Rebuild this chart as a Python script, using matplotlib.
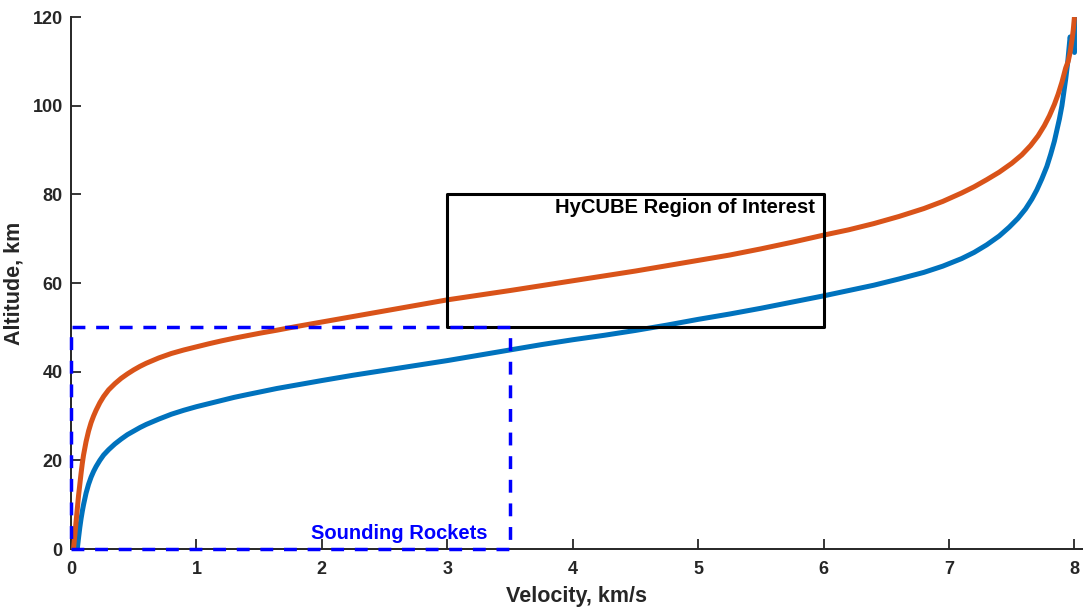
import matplotlib
matplotlib.use("Agg")
import matplotlib.pyplot as plt
from matplotlib.patches import Rectangle

plt.rcParams['font.family'] = ['Liberation Sans', 'DejaVu Sans']
plt.rcParams['font.weight'] = 'bold'

# Trajectory velocity (km/s) vs altitude (km), lower corridor
v_low = [0.05, 0.06, 0.07, 0.08, 0.09, 0.10, 0.12, 0.14, 0.16, 0.18, 0.20,
         0.23, 0.26, 0.30, 0.35, 0.40, 0.45, 0.50, 0.55, 0.60, 0.70, 0.80,
         0.90, 1.00, 1.10, 1.20, 1.30, 1.40, 1.52, 1.64, 1.80, 2.00, 2.25,
         2.50, 2.75, 3.00, 3.25, 3.50, 3.75, 4.00, 4.25, 4.50, 4.75, 5.00,
         5.25, 5.50, 5.75, 6.00, 6.20, 6.40, 6.60, 6.80, 6.95, 7.10, 7.20,
         7.30, 7.40, 7.48, 7.55, 7.61, 7.66, 7.70, 7.74, 7.78, 7.81, 7.84,
         7.86, 7.88, 7.90, 7.915, 7.93, 7.945, 7.955, 7.965, 8.00, 8.00]
alt_low = [0.0, 2.5, 4.8, 6.8, 8.5, 10.0, 12.6, 14.6, 16.2, 17.5, 18.6,
           20.0, 21.2, 22.4, 23.7, 24.8, 25.8, 26.6, 27.4, 28.1, 29.3, 30.4,
           31.3, 32.1, 32.8, 33.5, 34.2, 34.8, 35.5, 36.2, 37.0, 38.0, 39.2,
           40.3, 41.4, 42.5, 43.7, 44.9, 46.1, 47.2, 48.2, 49.3, 50.5, 51.8,
           53.0, 54.3, 55.7, 57.1, 58.3, 59.5, 60.9, 62.4, 63.8, 65.5, 66.9,
           68.6, 70.6, 72.6, 74.6, 76.7, 78.9, 81.0, 83.5, 86.3, 89.0, 92.0,
           94.5, 97.0, 100.0, 103.0, 106.0, 109.5, 112.5, 115.5, 112.0, 120.0]

# Upper corridor
v_high = [0.02, 0.03, 0.04, 0.05, 0.06, 0.07, 0.08, 0.09, 0.10, 0.12, 0.14,
          0.16, 0.18, 0.20, 0.23, 0.26, 0.30, 0.35, 0.40, 0.45, 0.50, 0.55,
          0.60, 0.70, 0.80, 0.90, 1.00, 1.10, 1.20, 1.30, 1.40, 1.52, 1.64,
          1.80, 2.00, 2.25, 2.50, 2.75, 3.00, 3.25, 3.50, 3.75, 4.00, 4.25,
          4.50, 4.75, 5.00, 5.25, 5.50, 5.75, 6.00, 6.20, 6.40, 6.60, 6.80,
          6.95, 7.10, 7.20, 7.30, 7.40, 7.50, 7.58, 7.65, 7.71, 7.76, 7.80,
          7.84, 7.87, 7.90, 7.93, 7.95, 7.965, 7.98, 7.99, 8.00]
alt_high = [0.0, 3.0, 6.0, 9.0, 12.0, 14.5, 17.0, 19.3, 21.2, 24.2, 26.6,
            28.5, 30.0, 31.3, 33.0, 34.4, 35.9, 37.3, 38.5, 39.5, 40.4, 41.2,
            41.9, 43.1, 44.1, 44.9, 45.6, 46.3, 46.95, 47.55, 48.1, 48.75, 49.35,
            50.2, 51.2, 52.45, 53.7, 54.95, 56.2, 57.25, 58.3, 59.4, 60.5, 61.6,
            62.7, 63.9, 65.1, 66.3, 67.7, 69.2, 70.8, 72.0, 73.4, 75.0, 76.8,
            78.4, 80.3, 81.7, 83.3, 85.0, 87.0, 88.9, 91.0, 93.2, 95.5, 97.7,
            100.3, 102.6, 105.3, 108.5, 110.0, 112.0, 114.8, 117.0, 120.0]

# Regions: (v_min, v_max, alt_min, alt_max)
hycube_region = (3.0, 6.0, 50.0, 80.0)
sounding_region = (0.0, 3.5, 0.0, 50.0)

x_ticks = [0, 1, 2, 3, 4, 5, 6, 7, 8]
y_ticks = [0, 20, 40, 60, 80, 100, 120]

fig = plt.figure(figsize=(10.83, 6.07), dpi=100)
ax = fig.add_axes([71 / 1083, 58 / 607, 1012 / 1083, 532 / 607])

ax.plot(v_low, alt_low, color='#0072BD', lw=3.6, solid_capstyle='butt',
        solid_joinstyle='round', zorder=3)
ax.plot(v_high, alt_high, color='#D95319', lw=3.6, solid_capstyle='butt',
        solid_joinstyle='round', zorder=4)

x0, x1, y0, y1 = hycube_region
ax.add_patch(Rectangle((x0, y0), x1 - x0, y1 - y0, fill=False, ec='black',
                       lw=2.2, joinstyle='round', zorder=5))
ax.text(5.93, 77.0, 'HyCUBE Region of Interest', ha='right', va='center',
        fontsize=14.5, fontweight='bold', color='black', zorder=6)

sx0, sx1, sy0, sy1 = sounding_region
ax.plot([sx0, sx1, sx1, sx0, sx0], [sy0, sy0, sy1, sy1, sy0], color='#0000FF',
        lw=2.5, linestyle=(0, (3.7, 3.1)), zorder=6, clip_on=False)
ax.text(2.615, 3.6, 'Sounding Rockets', ha='center', va='center',
        fontsize=14.5, fontweight='bold', color='#0000FF', zorder=7)

ax.set_xlim(0, 8.068)
ax.set_ylim(0, 120)
ax.set_xticks(x_ticks)
ax.set_yticks(y_ticks)
ax.set_xticklabels([str(t) for t in x_ticks])
ax.set_yticklabels([str(t) for t in y_ticks])

for side in ('top', 'right'):
    ax.spines[side].set_visible(False)
for side in ('left', 'bottom'):
    ax.spines[side].set_color('#262626')
    ax.spines[side].set_linewidth(1.4)

ax.tick_params(direction='in', length=7, width=1.3, colors='#262626',
               labelsize=13)
ax.tick_params(axis='x', pad=9)
ax.tick_params(axis='y', pad=6)
for lbl in ax.get_xticklabels() + ax.get_yticklabels():
    lbl.set_fontweight('bold')

ax.set_xlabel('Velocity, km/s', fontsize=15.5, fontweight='bold', color='#262626')
ax.set_ylabel('Altitude, km', fontsize=15.5, fontweight='bold', color='#262626')
ax.xaxis.set_label_coords(0.5, -37 / 532)
ax.yaxis.set_label_coords(-46 / 1012, 0.5)

fig.savefig('out.png', dpi=100)
